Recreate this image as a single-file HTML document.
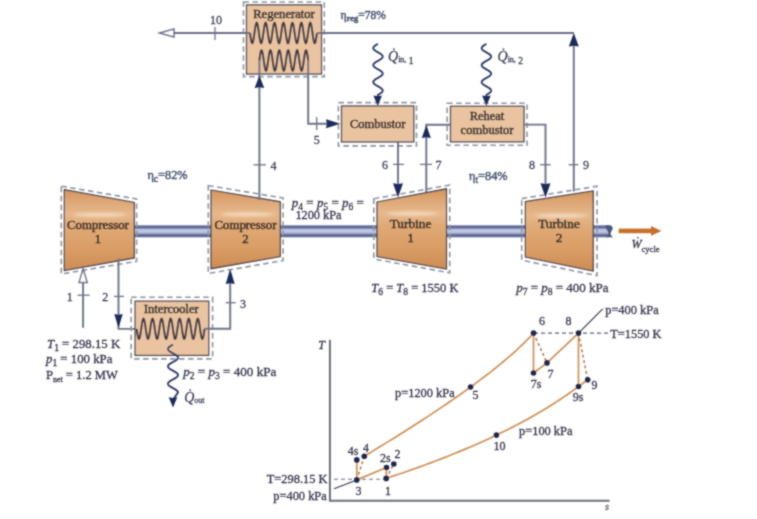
<!DOCTYPE html>
<html><head><meta charset="utf-8"><style>
html,body{margin:0;padding:0;background:#fff;width:757px;height:519px;overflow:hidden}
svg{display:block}
text{font-family:"Liberation Serif",serif}
</style></head><body>
<svg width="757" height="519" viewBox="0 0 757 519">
<defs>
<linearGradient id="tg" x1="0" y1="0" x2="0" y2="1">
<stop offset="0" stop-color="#d4945a"/>
<stop offset="0.12" stop-color="#dca472"/>
<stop offset="0.3" stop-color="#e6b88c"/>
<stop offset="0.45" stop-color="#e0aa76"/>
<stop offset="0.75" stop-color="#d99c64"/>
<stop offset="1" stop-color="#cc8c54"/>
</linearGradient>
<filter id="gb" x="0" y="0" width="757" height="519" filterUnits="userSpaceOnUse"><feConvolveMatrix order="3" kernelMatrix="1 2 1 2 8 2 1 2 1" divisor="20" edgeMode="duplicate"/></filter>
<filter id="bl" x="-50%" y="-200%" width="200%" height="500%"><feGaussianBlur stdDeviation="1.6"/></filter>
<linearGradient id="sg" x1="0" y1="0" x2="0" y2="1">
<stop offset="0" stop-color="#66739a"/>
<stop offset="0.22" stop-color="#5e6b92"/>
<stop offset="0.34" stop-color="#b6bede"/>
<stop offset="0.5" stop-color="#c4cbe8"/>
<stop offset="0.68" stop-color="#a0a9ce"/>
<stop offset="0.78" stop-color="#5a678e"/>
<stop offset="1" stop-color="#66739a"/>
</linearGradient>
</defs>
<rect width="757" height="519" fill="#ffffff"/>
<g filter="url(#gb)">
<rect x="134" y="225.3" width="78" height="12" fill="url(#sg)"/>
<rect x="280" y="225.3" width="98" height="12" fill="url(#sg)"/>
<rect x="446" y="225.3" width="80" height="12" fill="url(#sg)"/>
<rect x="593" y="225.3" width="15" height="12" fill="url(#sg)"/>
<path d="M606,225.3 L610.5,225.3 Q614.5,227.5 611.5,231 Q609,234.5 613,237.3 L606,237.3 Q609.5,234 607.5,231 Q605,227.5 606,225.3 Z" fill="#4a567c"/>
<polygon points="61.3,186.2 136.6,198.9 136.6,261.3 61.3,274" fill="none" stroke="#8e94a0" stroke-width="1.6" stroke-dasharray="5.5,3.5"/>
<polygon points="64.3,189.7 134.3,202.4 134.3,257.9 64.3,270.6" fill="url(#tg)" stroke="#3e3c4a" stroke-width="1.2"/>
<ellipse cx="100" cy="214.779" rx="26.600000000000005" ry="1.8" fill="#f8e2cc" opacity="0.85" filter="url(#bl)"/>
<text x="98" y="229" font-family="Liberation Serif" font-size="12.8" text-anchor="middle" fill="#2a2426" stroke="#2a2426" stroke-width="0.5" >Compressor</text>
<text x="98" y="243" font-family="Liberation Serif" font-size="12.8" text-anchor="middle" fill="#2a2426" stroke="#2a2426" stroke-width="0.5" >1</text>
<polygon points="208.3,185.6 283,198 283,260.6 208.3,273.5" fill="none" stroke="#8e94a0" stroke-width="1.6" stroke-dasharray="5.5,3.5"/>
<polygon points="211,190 280.3,201.8 280.3,256.5 211,268.7" fill="url(#tg)" stroke="#3e3c4a" stroke-width="1.2"/>
<ellipse cx="247.5" cy="214.397" rx="26.334000000000003" ry="1.8" fill="#f8e2cc" opacity="0.85" filter="url(#bl)"/>
<text x="245.5" y="228.5" font-family="Liberation Serif" font-size="12.8" text-anchor="middle" fill="#2a2426" stroke="#2a2426" stroke-width="0.5" >Compressor</text>
<text x="245.5" y="242.5" font-family="Liberation Serif" font-size="12.8" text-anchor="middle" fill="#2a2426" stroke="#2a2426" stroke-width="0.5" >2</text>
<polygon points="373.8,198.8 449.7,185 449.7,272.8 373.8,259" fill="none" stroke="#8e94a0" stroke-width="1.6" stroke-dasharray="5.5,3.5"/>
<polygon points="377,202 446.5,188.8 446.5,269 377,256.5" fill="url(#tg)" stroke="#3e3c4a" stroke-width="1.2"/>
<ellipse cx="412.5" cy="213.662" rx="26.41" ry="1.8" fill="#f8e2cc" opacity="0.85" filter="url(#bl)"/>
<text x="410.5" y="228" font-family="Liberation Serif" font-size="13.3" text-anchor="middle" fill="#2a2426" stroke="#2a2426" stroke-width="0.5" >Turbine</text>
<text x="410.5" y="242" font-family="Liberation Serif" font-size="13.3" text-anchor="middle" fill="#2a2426" stroke="#2a2426" stroke-width="0.5" >1</text>
<polygon points="521.7,198.6 597,186.2 597,275.6 521.7,260.2" fill="none" stroke="#8e94a0" stroke-width="1.6" stroke-dasharray="5.5,3.5"/>
<polygon points="525.4,201.7 593.2,190.9 593.2,271 525.4,257.1" fill="url(#tg)" stroke="#3e3c4a" stroke-width="1.2"/>
<ellipse cx="561" cy="215.731" rx="25.764000000000028" ry="1.8" fill="#f8e2cc" opacity="0.85" filter="url(#bl)"/>
<text x="559" y="228.2" font-family="Liberation Serif" font-size="13.3" text-anchor="middle" fill="#2a2426" stroke="#2a2426" stroke-width="0.5" >Turbine</text>
<text x="559" y="242.2" font-family="Liberation Serif" font-size="13.3" text-anchor="middle" fill="#2a2426" stroke="#2a2426" stroke-width="0.5" >2</text>
<rect x="243.5" y="2" width="80.80000000000001" height="74.6" fill="none" stroke="#8e94a0" stroke-width="1.6" stroke-dasharray="5.5,3.5"/>
<rect x="246.5" y="4.9" width="75.0" height="69.1" fill="#eac4a0" stroke="#4a4550" stroke-width="1.3"/>
<text x="284" y="17.5" font-family="Liberation Serif" font-size="12.6" text-anchor="middle" fill="#2a2426" stroke="#2a2426" stroke-width="0.5" >Regenerator</text>
<line x1="172" y1="33" x2="250" y2="33" stroke="#6b7388" stroke-width="1.9" />
<polyline points="250.00,33.00 250.17,34.20 250.33,35.39 250.50,36.55 250.67,37.65 250.83,38.70 251.00,39.66 251.17,40.53 251.33,41.30 251.50,41.96 251.67,42.49 251.83,42.90 252.00,43.16 252.17,43.29 252.33,43.27 252.50,43.12 252.67,42.83 252.83,42.40 253.00,41.84 253.17,41.16 253.33,40.37 253.50,39.48 253.67,38.49 253.83,37.44 254.00,36.32 254.17,35.16 254.33,33.96 254.50,32.76 254.66,31.56 254.83,30.37 255.00,29.23 255.16,28.13 255.33,27.10 255.50,26.16 255.66,25.30 255.83,24.56 256.00,23.92 256.16,23.42 256.33,23.04 256.50,22.80 256.66,22.70 256.83,22.75 257.00,22.93 257.16,23.25 257.33,23.71 257.50,24.29 257.66,24.99 257.83,25.80 258.00,26.71 258.16,27.71 258.33,28.78 258.50,29.91 258.66,31.08 258.83,32.28 259.00,33.48 259.16,34.68 259.33,35.86 259.50,37.00 259.66,38.08 259.83,39.09 260.00,40.02 260.16,40.86 260.33,41.58 260.50,42.19 260.66,42.67 260.83,43.02 261.00,43.23 261.16,43.30 261.33,43.23 261.50,43.02 261.66,42.67 261.83,42.19 262.00,41.58 262.16,40.86 262.33,40.02 262.50,39.09 262.66,38.08 262.83,37.00 263.00,35.86 263.16,34.68 263.33,33.48 263.49,32.28 263.66,31.08 263.83,29.91 263.99,28.78 264.16,27.71 264.33,26.71 264.49,25.80 264.66,24.99 264.83,24.29 264.99,23.71 265.16,23.25 265.33,22.93 265.49,22.75 265.66,22.70 265.83,22.80 265.99,23.04 266.16,23.42 266.33,23.92 266.49,24.56 266.66,25.30 266.83,26.16 266.99,27.10 267.16,28.13 267.33,29.23 267.49,30.37 267.66,31.56 267.83,32.76 267.99,33.96 268.16,35.16 268.33,36.32 268.49,37.44 268.66,38.49 268.83,39.48 268.99,40.37 269.16,41.16 269.33,41.84 269.49,42.40 269.66,42.83 269.83,43.12 269.99,43.27 270.16,43.29 270.33,43.16 270.49,42.90 270.66,42.49 270.83,41.96 270.99,41.30 271.16,40.53 271.33,39.66 271.49,38.70 271.66,37.65 271.83,36.55 271.99,35.39 272.16,34.20 272.32,33.00 272.49,31.80 272.66,30.61 272.82,29.45 272.99,28.35 273.16,27.30 273.32,26.34 273.49,25.47 273.66,24.70 273.82,24.04 273.99,23.51 274.16,23.10 274.32,22.84 274.49,22.71 274.66,22.73 274.82,22.88 274.99,23.17 275.16,23.60 275.32,24.16 275.49,24.84 275.66,25.63 275.82,26.52 275.99,27.51 276.16,28.56 276.32,29.68 276.49,30.84 276.66,32.04 276.82,33.24 276.99,34.44 277.16,35.63 277.32,36.77 277.49,37.87 277.66,38.90 277.82,39.84 277.99,40.70 278.16,41.44 278.32,42.08 278.49,42.58 278.66,42.96 278.82,43.20 278.99,43.30 279.16,43.25 279.32,43.07 279.49,42.75 279.66,42.29 279.82,41.71 279.99,41.01 280.16,40.20 280.32,39.29 280.49,38.29 280.66,37.22 280.82,36.09 280.99,34.92 281.16,33.72 281.32,32.52 281.49,31.32 281.65,30.14 281.82,29.00 281.99,27.92 282.15,26.91 282.32,25.98 282.49,25.14 282.65,24.42 282.82,23.81 282.99,23.33 283.15,22.98 283.32,22.77 283.49,22.70 283.65,22.77 283.82,22.98 283.99,23.33 284.15,23.81 284.32,24.42 284.49,25.14 284.65,25.98 284.82,26.91 284.99,27.92 285.15,29.00 285.32,30.14 285.49,31.32 285.65,32.52 285.82,33.72 285.99,34.92 286.15,36.09 286.32,37.22 286.49,38.29 286.65,39.29 286.82,40.20 286.99,41.01 287.15,41.71 287.32,42.29 287.49,42.75 287.65,43.07 287.82,43.25 287.99,43.30 288.15,43.20 288.32,42.96 288.49,42.58 288.65,42.08 288.82,41.44 288.99,40.70 289.15,39.84 289.32,38.90 289.49,37.87 289.65,36.77 289.82,35.63 289.99,34.44 290.15,33.24 290.32,32.04 290.48,30.84 290.65,29.68 290.82,28.56 290.98,27.51 291.15,26.52 291.32,25.63 291.48,24.84 291.65,24.16 291.82,23.60 291.98,23.17 292.15,22.88 292.32,22.73 292.48,22.71 292.65,22.84 292.82,23.10 292.98,23.51 293.15,24.04 293.32,24.70 293.48,25.47 293.65,26.34 293.82,27.30 293.98,28.35 294.15,29.45 294.32,30.61 294.48,31.80 294.65,33.00 294.82,34.20 294.98,35.39 295.15,36.55 295.32,37.65 295.48,38.70 295.65,39.66 295.82,40.53 295.98,41.30 296.15,41.96 296.32,42.49 296.48,42.90 296.65,43.16 296.82,43.29 296.98,43.27 297.15,43.12 297.32,42.83 297.48,42.40 297.65,41.84 297.82,41.16 297.98,40.37 298.15,39.48 298.32,38.49 298.48,37.44 298.65,36.32 298.82,35.16 298.98,33.96 299.15,32.76 299.31,31.56 299.48,30.37 299.65,29.23 299.81,28.13 299.98,27.10 300.15,26.16 300.31,25.30 300.48,24.56 300.65,23.92 300.81,23.42 300.98,23.04 301.15,22.80 301.31,22.70 301.48,22.75 301.65,22.93 301.81,23.25 301.98,23.71 302.15,24.29 302.31,24.99 302.48,25.80 302.65,26.71 302.81,27.71 302.98,28.78 303.15,29.91 303.31,31.08 303.48,32.28 303.65,33.48 303.81,34.68 303.98,35.86 304.15,37.00 304.31,38.08 304.48,39.09 304.65,40.02 304.81,40.86 304.98,41.58 305.15,42.19 305.31,42.67 305.48,43.02 305.65,43.23 305.81,43.30 305.98,43.23 306.15,43.02 306.31,42.67 306.48,42.19 306.65,41.58 306.81,40.86 306.98,40.02 307.15,39.09 307.31,38.08 307.48,37.00 307.65,35.86 307.81,34.68 307.98,33.48 308.14,32.28 308.31,31.08 308.48,29.91 308.64,28.78 308.81,27.71 308.98,26.71 309.14,25.80 309.31,24.99 309.48,24.29 309.64,23.71 309.81,23.25 309.98,22.93 310.14,22.75 310.31,22.70 310.48,22.80 310.64,23.04 310.81,23.42 310.98,23.92 311.14,24.56 311.31,25.30 311.48,26.16 311.64,27.10 311.81,28.13 311.98,29.23 312.14,30.37 312.31,31.56 312.48,32.76 312.64,33.96 312.81,35.16 312.98,36.32 313.14,37.44 313.31,38.49 313.48,39.48 313.64,40.37 313.81,41.16 313.98,41.84 314.14,42.40 314.31,42.83 314.48,43.12 314.64,43.27 314.81,43.29 314.98,43.16 315.14,42.90 315.31,42.49 315.48,41.96 315.64,41.30 315.81,40.53 315.98,39.66 316.14,38.70 316.31,37.65 316.48,36.55 316.64,35.39 316.81,34.20 316.98,33.00" fill="none" stroke="#3e3844" stroke-width="2.0" />
<line x1="317.2" y1="33" x2="574" y2="33" stroke="#6b7388" stroke-width="1.9" />
<path d="M174,29 L159.5,33 L174,37 Z" fill="#fff" stroke="#6b7388" stroke-width="1.5"/>
<line x1="215" y1="27" x2="215" y2="40" stroke="#6b7388" stroke-width="1.3" />
<text x="216" y="23.5" font-family="Liberation Serif" font-size="12" text-anchor="middle" fill="#3a3f56" stroke="#3a3f56" stroke-width="0.28" >10</text>
<text x="340.5" y="19" font-family="Liberation Sans" font-size="11.5" text-anchor="start" fill="#4a5570" stroke="#4a5570" stroke-width="0.45" >η<tspan font-size="8.5" dy="2" font-weight="bold">reg</tspan><tspan dy="-2">=78%</tspan></text>
<line x1="259.4" y1="200" x2="259.4" y2="60.5" stroke="#6b7388" stroke-width="1.9" />
<polyline points="259.30,60.50 259.47,59.29 259.63,58.10 259.80,56.94 259.97,55.83 260.13,54.79 260.30,53.82 260.47,52.95 260.63,52.18 260.80,51.53 260.96,50.99 261.13,50.59 261.30,50.33 261.46,50.21 261.63,50.23 261.80,50.39 261.96,50.69 262.13,51.13 262.30,51.69 262.46,52.38 262.63,53.18 262.80,54.08 262.96,55.07 263.13,56.13 263.30,57.25 263.46,58.42 263.63,59.62 263.80,60.83 263.96,62.04 264.13,63.22 264.29,64.37 264.46,65.46 264.63,66.48 264.79,67.42 264.96,68.27 265.13,69.01 265.29,69.63 265.46,70.13 265.63,70.49 265.79,70.72 265.96,70.80 266.13,70.74 266.29,70.54 266.46,70.20 266.63,69.73 266.79,69.13 266.96,68.41 267.13,67.59 267.29,66.66 267.46,65.65 267.62,64.57 267.79,63.43 267.96,62.25 268.12,61.05 268.29,59.84 268.46,58.64 268.62,57.46 268.79,56.33 268.96,55.25 269.12,54.25 269.29,53.33 269.46,52.52 269.62,51.81 269.79,51.22 269.96,50.76 270.12,50.43 270.29,50.25 270.46,50.20 270.62,50.30 270.79,50.54 270.95,50.91 271.12,51.42 271.29,52.05 271.45,52.80 271.62,53.66 271.79,54.61 271.95,55.64 272.12,56.74 272.29,57.89 272.45,59.07 272.62,60.28 272.79,61.49 272.95,62.68 273.12,63.85 273.29,64.97 273.45,66.03 273.62,67.01 273.79,67.90 273.95,68.69 274.12,69.36 274.28,69.92 274.45,70.34 274.62,70.63 274.78,70.78 274.95,70.79 275.12,70.65 275.28,70.37 275.45,69.96 275.62,69.42 275.78,68.75 275.95,67.98 276.12,67.09 276.28,66.12 276.45,65.07 276.62,63.95 276.78,62.79 276.95,61.60 277.12,60.39 277.28,59.18 277.45,57.99 277.61,56.84 277.78,55.74 277.95,54.70 278.11,53.74 278.28,52.88 278.45,52.12 278.61,51.47 278.78,50.95 278.95,50.57 279.11,50.32 279.28,50.21 279.45,50.24 279.61,50.41 279.78,50.72 279.95,51.17 280.11,51.75 280.28,52.45 280.45,53.26 280.61,54.16 280.78,55.16 280.94,56.23 281.11,57.36 281.28,58.53 281.44,59.73 281.61,60.94 281.78,62.14 281.94,63.32 282.11,64.47 282.28,65.55 282.44,66.57 282.61,67.51 282.78,68.34 282.94,69.07 283.11,69.68 283.28,70.17 283.44,70.52 283.61,70.73 283.78,70.80 283.94,70.73 284.11,70.52 284.27,70.17 284.44,69.68 284.61,69.07 284.77,68.34 284.94,67.51 285.11,66.57 285.27,65.55 285.44,64.47 285.61,63.32 285.77,62.14 285.94,60.94 286.11,59.73 286.27,58.53 286.44,57.36 286.61,56.23 286.77,55.16 286.94,54.16 287.10,53.26 287.27,52.45 287.44,51.75 287.60,51.17 287.77,50.72 287.94,50.41 288.10,50.24 288.27,50.21 288.44,50.32 288.60,50.57 288.77,50.95 288.94,51.47 289.10,52.12 289.27,52.88 289.44,53.74 289.60,54.70 289.77,55.74 289.94,56.84 290.10,57.99 290.27,59.18 290.43,60.39 290.60,61.60 290.77,62.79 290.93,63.95 291.10,65.07 291.27,66.12 291.43,67.09 291.60,67.98 291.77,68.75 291.93,69.42 292.10,69.96 292.27,70.37 292.43,70.65 292.60,70.79 292.77,70.78 292.93,70.63 293.10,70.34 293.27,69.92 293.43,69.36 293.60,68.69 293.76,67.90 293.93,67.01 294.10,66.03 294.26,64.97 294.43,63.85 294.60,62.68 294.76,61.49 294.93,60.28 295.10,59.07 295.26,57.89 295.43,56.74 295.60,55.64 295.76,54.61 295.93,53.66 296.10,52.80 296.26,52.05 296.43,51.42 296.60,50.91 296.76,50.54 296.93,50.30 297.09,50.20 297.26,50.25 297.43,50.43 297.59,50.76 297.76,51.22 297.93,51.81 298.09,52.52 298.26,53.33 298.43,54.25 298.59,55.25 298.76,56.33 298.93,57.46 299.09,58.64 299.26,59.84 299.43,61.05 299.59,62.25 299.76,63.43 299.93,64.57 300.09,65.65 300.26,66.66 300.42,67.59 300.59,68.41 300.76,69.13 300.92,69.73 301.09,70.20 301.26,70.54 301.42,70.74 301.59,70.80 301.76,70.72 301.92,70.49 302.09,70.13 302.26,69.63 302.42,69.01 302.59,68.27 302.76,67.42 302.92,66.48 303.09,65.46 303.26,64.37 303.42,63.22 303.59,62.04 303.75,60.83 303.92,59.62 304.09,58.42 304.25,57.25 304.42,56.13 304.59,55.07 304.75,54.08 304.92,53.18 305.09,52.38 305.25,51.69 305.42,51.13 305.59,50.69 305.75,50.39 305.92,50.23 306.09,50.21 306.25,50.33 306.42,50.59 306.59,50.99 306.75,51.53 306.92,52.18 307.08,52.95 307.25,53.82 307.42,54.79 307.58,55.83 307.75,56.94 307.92,58.10 308.08,59.29 308.25,60.50" fill="none" stroke="#3e3844" stroke-width="2.0" />
<path d="M254.59999999999997,88 L259.4,75.5 L264.2,88 L259.4,87.2 Z" fill="#1d2b5c"/>
<line x1="253.5" y1="164.8" x2="266" y2="164.8" stroke="#6b7388" stroke-width="1.3" />
<text x="273.5" y="169.5" font-family="Liberation Serif" font-size="12" text-anchor="middle" fill="#3a3f56" stroke="#3a3f56" stroke-width="0.28" >4</text>
<polyline points="308.20,60.50 308.20,123.80 330.00,123.80" fill="none" stroke="#6b7388" stroke-width="1.9" />
<path d="M326,119.3 L340.5,123.8 L326,128.3 L326.8,123.8 Z" fill="#1d2b5c"/>
<line x1="316.7" y1="117" x2="316.7" y2="130" stroke="#6b7388" stroke-width="1.3" />
<text x="316.7" y="143.5" font-family="Liberation Serif" font-size="12" text-anchor="middle" fill="#3a3f56" stroke="#3a3f56" stroke-width="0.28" >5</text>
<rect x="338.4" y="102.6" width="78.10000000000002" height="43.30000000000001" fill="none" stroke="#8e94a0" stroke-width="1.6" stroke-dasharray="5.5,3.5"/>
<rect x="341.5" y="106" width="72.30000000000001" height="35.900000000000006" fill="#eac4a0" stroke="#4a4550" stroke-width="1.3"/>
<text x="377.7" y="128" font-family="Liberation Serif" font-size="12.5" text-anchor="middle" fill="#2a2426" stroke="#2a2426" stroke-width="0.5" >Combustor</text>
<polyline points="378.00,43.80 377.63,44.01 377.26,44.22 376.90,44.44 376.55,44.65 376.20,44.86 375.87,45.07 375.54,45.29 375.24,45.50 374.95,45.71 374.68,45.92 374.43,46.14 374.20,46.35 373.99,46.56 373.81,46.77 373.66,46.99 373.53,47.20 373.43,47.41 373.36,47.62 373.31,47.84 373.30,48.05 373.31,48.26 373.36,48.47 373.43,48.69 373.53,48.90 373.66,49.11 373.81,49.32 373.99,49.54 374.20,49.75 374.43,49.96 374.68,50.17 374.95,50.39 375.24,50.60 375.54,50.81 375.87,51.02 376.20,51.24 376.55,51.45 376.90,51.66 377.26,51.88 377.63,52.09 378.00,52.30 378.37,52.51 378.74,52.72 379.10,52.94 379.45,53.15 379.80,53.36 380.13,53.57 380.46,53.79 380.76,54.00 381.05,54.21 381.32,54.42 381.57,54.64 381.80,54.85 382.01,55.06 382.19,55.27 382.34,55.49 382.47,55.70 382.57,55.91 382.64,56.12 382.69,56.34 382.70,56.55 382.69,56.76 382.64,56.97 382.57,57.19 382.47,57.40 382.34,57.61 382.19,57.82 382.01,58.04 381.80,58.25 381.57,58.46 381.32,58.67 381.05,58.89 380.76,59.10 380.46,59.31 380.13,59.52 379.80,59.74 379.45,59.95 379.10,60.16 378.74,60.38 378.37,60.59 378.00,60.80 377.63,61.01 377.26,61.22 376.90,61.44 376.55,61.65 376.20,61.86 375.87,62.07 375.54,62.29 375.24,62.50 374.95,62.71 374.68,62.92 374.43,63.14 374.20,63.35 373.99,63.56 373.81,63.77 373.66,63.99 373.53,64.20 373.43,64.41 373.36,64.62 373.31,64.84 373.30,65.05 373.31,65.26 373.36,65.47 373.43,65.69 373.53,65.90 373.66,66.11 373.81,66.32 373.99,66.54 374.20,66.75 374.43,66.96 374.68,67.17 374.95,67.39 375.24,67.60 375.54,67.81 375.87,68.03 376.20,68.24 376.55,68.45 376.90,68.66 377.26,68.88 377.63,69.09 378.00,69.30 378.37,69.51 378.74,69.72 379.10,69.94 379.45,70.15 379.80,70.36 380.13,70.57 380.46,70.79 380.76,71.00 381.05,71.21 381.32,71.42 381.57,71.64 381.80,71.85 382.01,72.06 382.19,72.28 382.34,72.49 382.47,72.70 382.57,72.91 382.64,73.12 382.69,73.34 382.70,73.55 382.69,73.76 382.64,73.97 382.57,74.19 382.47,74.40 382.34,74.61 382.19,74.82 382.01,75.04 381.80,75.25 381.57,75.46 381.32,75.67 381.05,75.89 380.76,76.10 380.46,76.31 380.13,76.53 379.80,76.74 379.45,76.95 379.10,77.16 378.74,77.38 378.37,77.59 378.00,77.80 377.63,78.01 377.26,78.22 376.90,78.44 376.55,78.65 376.20,78.86 375.87,79.07 375.54,79.29 375.24,79.50 374.95,79.71 374.68,79.92 374.43,80.14 374.20,80.35 373.99,80.56 373.81,80.78 373.66,80.99 373.53,81.20 373.43,81.41 373.36,81.62 373.31,81.84 373.30,82.05 373.31,82.26 373.36,82.47 373.43,82.69 373.53,82.90 373.66,83.11 373.81,83.32 373.99,83.54 374.20,83.75 374.43,83.96 374.68,84.17 374.95,84.39 375.24,84.60 375.54,84.81 375.87,85.03 376.20,85.24 376.55,85.45 376.90,85.66 377.26,85.88 377.63,86.09 378.00,86.30 378.37,86.51 378.74,86.72 379.10,86.94 379.45,87.15 379.80,87.36 380.13,87.57 380.46,87.79 380.76,88.00 381.05,88.21 381.32,88.42 381.57,88.64 381.80,88.85 382.01,89.06 382.19,89.28 382.34,89.49 382.47,89.70 382.57,89.91 382.64,90.12 382.69,90.34 382.70,90.55 382.69,90.76 382.64,90.97 382.57,91.19 382.47,91.40 382.34,91.61 382.19,91.82 382.01,92.04 381.80,92.25 381.57,92.46 381.32,92.67 381.05,92.89 380.76,93.10 380.46,93.31 380.13,93.53 379.80,93.74 379.45,93.95 379.10,94.16 378.74,94.38 378.37,94.59 378.00,94.80 377.70,98.00" fill="none" stroke="#2e3b66" stroke-width="1.9" />
<path d="M373.4,95.5 L377.7,106 L382.0,95.5 L377.7,96.3 Z" fill="#1d2b5c"/>
<text x="388" y="60.5" font-family="Liberation Serif" font-size="12" text-anchor="start" fill="#3a3f56" stroke="#3a3f56" stroke-width="0.28" ><tspan font-style="italic" font-size="14">Q̇</tspan><tspan font-size="8" dy="1.5">in,</tspan><tspan font-size="9.5" dy="2" dx="2.5">1</tspan></text>
<rect x="447.2" y="103.2" width="79.80000000000001" height="42.10000000000001" fill="none" stroke="#8e94a0" stroke-width="1.6" stroke-dasharray="5.5,3.5"/>
<rect x="450.5" y="106.3" width="73.5" height="35.500000000000014" fill="#eac4a0" stroke="#4a4550" stroke-width="1.3"/>
<text x="487" y="120.3" font-family="Liberation Serif" font-size="12.5" text-anchor="middle" fill="#2a2426" stroke="#2a2426" stroke-width="0.5" >Reheat</text>
<text x="487" y="133.6" font-family="Liberation Serif" font-size="12.5" text-anchor="middle" fill="#2a2426" stroke="#2a2426" stroke-width="0.5" >combustor</text>
<polyline points="486.40,43.90 486.03,44.11 485.66,44.32 485.30,44.54 484.95,44.75 484.60,44.96 484.27,45.17 483.94,45.39 483.64,45.60 483.35,45.81 483.08,46.02 482.83,46.24 482.60,46.45 482.39,46.66 482.21,46.88 482.06,47.09 481.93,47.30 481.83,47.51 481.76,47.73 481.71,47.94 481.70,48.15 481.71,48.36 481.76,48.58 481.83,48.79 481.93,49.00 482.06,49.21 482.21,49.42 482.39,49.64 482.60,49.85 482.83,50.06 483.08,50.27 483.35,50.49 483.64,50.70 483.94,50.91 484.27,51.12 484.60,51.34 484.95,51.55 485.30,51.76 485.66,51.98 486.03,52.19 486.40,52.40 486.77,52.61 487.14,52.83 487.50,53.04 487.85,53.25 488.20,53.46 488.53,53.67 488.86,53.89 489.16,54.10 489.45,54.31 489.72,54.52 489.97,54.74 490.20,54.95 490.41,55.16 490.59,55.38 490.74,55.59 490.87,55.80 490.97,56.01 491.04,56.23 491.09,56.44 491.10,56.65 491.09,56.86 491.04,57.08 490.97,57.29 490.87,57.50 490.74,57.71 490.59,57.92 490.41,58.14 490.20,58.35 489.97,58.56 489.72,58.77 489.45,58.99 489.16,59.20 488.86,59.41 488.53,59.62 488.20,59.84 487.85,60.05 487.50,60.26 487.14,60.48 486.77,60.69 486.40,60.90 486.03,61.11 485.66,61.33 485.30,61.54 484.95,61.75 484.60,61.96 484.27,62.17 483.94,62.39 483.64,62.60 483.35,62.81 483.08,63.03 482.83,63.24 482.60,63.45 482.39,63.66 482.21,63.88 482.06,64.09 481.93,64.30 481.83,64.51 481.76,64.72 481.71,64.94 481.70,65.15 481.71,65.36 481.76,65.58 481.83,65.79 481.93,66.00 482.06,66.21 482.21,66.42 482.39,66.64 482.60,66.85 482.83,67.06 483.08,67.28 483.35,67.49 483.64,67.70 483.94,67.91 484.27,68.12 484.60,68.34 484.95,68.55 485.30,68.76 485.66,68.97 486.03,69.19 486.40,69.40 486.77,69.61 487.14,69.83 487.50,70.04 487.85,70.25 488.20,70.46 488.53,70.67 488.86,70.89 489.16,71.10 489.45,71.31 489.72,71.53 489.97,71.74 490.20,71.95 490.41,72.16 490.59,72.38 490.74,72.59 490.87,72.80 490.97,73.01 491.04,73.22 491.09,73.44 491.10,73.65 491.09,73.86 491.04,74.08 490.97,74.29 490.87,74.50 490.74,74.71 490.59,74.92 490.41,75.14 490.20,75.35 489.97,75.56 489.72,75.78 489.45,75.99 489.16,76.20 488.86,76.41 488.53,76.62 488.20,76.84 487.85,77.05 487.50,77.26 487.14,77.47 486.77,77.69 486.40,77.90 486.03,78.11 485.66,78.33 485.30,78.54 484.95,78.75 484.60,78.96 484.27,79.18 483.94,79.39 483.64,79.60 483.35,79.81 483.08,80.03 482.83,80.24 482.60,80.45 482.39,80.66 482.21,80.88 482.06,81.09 481.93,81.30 481.83,81.51 481.76,81.73 481.71,81.94 481.70,82.15 481.71,82.36 481.76,82.58 481.83,82.79 481.93,83.00 482.06,83.21 482.21,83.43 482.39,83.64 482.60,83.85 482.83,84.06 483.08,84.28 483.35,84.49 483.64,84.70 483.94,84.91 484.27,85.12 484.60,85.34 484.95,85.55 485.30,85.76 485.66,85.98 486.03,86.19 486.40,86.40 486.77,86.61 487.14,86.83 487.50,87.04 487.85,87.25 488.20,87.46 488.53,87.68 488.86,87.89 489.16,88.10 489.45,88.31 489.72,88.53 489.97,88.74 490.20,88.95 490.41,89.16 490.59,89.38 490.74,89.59 490.87,89.80 490.97,90.01 491.04,90.23 491.09,90.44 491.10,90.65 491.09,90.86 491.04,91.08 490.97,91.29 490.87,91.50 490.74,91.71 490.59,91.93 490.41,92.14 490.20,92.35 489.97,92.56 489.72,92.78 489.45,92.99 489.16,93.20 488.86,93.41 488.53,93.62 488.20,93.84 487.85,94.05 487.50,94.26 487.14,94.48 486.77,94.69 486.40,94.90 486.40,98.00" fill="none" stroke="#2e3b66" stroke-width="1.9" />
<path d="M482.09999999999997,95.5 L486.4,106 L490.7,95.5 L486.4,96.3 Z" fill="#1d2b5c"/>
<text x="497.5" y="60.5" font-family="Liberation Serif" font-size="12" text-anchor="start" fill="#3a3f56" stroke="#3a3f56" stroke-width="0.28" ><tspan font-style="italic" font-size="14">Q̇</tspan><tspan font-size="8" dy="1.5">in,</tspan><tspan font-size="9.5" dy="2" dx="2.5">2</tspan></text>
<line x1="398" y1="142" x2="398" y2="190" stroke="#6b7388" stroke-width="1.9" />
<path d="M393,183.2 L398,197.5 L403,183.2 L398,184.0 Z" fill="#1d2b5c"/>
<line x1="393" y1="164.4" x2="404" y2="164.4" stroke="#6b7388" stroke-width="1.3" />
<text x="385" y="169" font-family="Liberation Serif" font-size="12" text-anchor="middle" fill="#3a3f56" stroke="#3a3f56" stroke-width="0.28" >6</text>
<polyline points="426.30,192.00 426.30,124.70 450.50,124.70" fill="none" stroke="#6b7388" stroke-width="1.9" />
<path d="M421.8,138 L426.3,125 L430.8,138 L426.3,137.2 Z" fill="#1d2b5c"/>
<line x1="420" y1="164.4" x2="432" y2="164.4" stroke="#6b7388" stroke-width="1.3" />
<text x="438.5" y="169" font-family="Liberation Serif" font-size="12" text-anchor="middle" fill="#3a3f56" stroke="#3a3f56" stroke-width="0.28" >7</text>
<polyline points="524.00,124.60 545.50,124.60 545.50,190.00" fill="none" stroke="#6b7388" stroke-width="1.9" />
<path d="M540.5,183.2 L545.5,197.5 L550.5,183.2 L545.5,184.0 Z" fill="#1d2b5c"/>
<line x1="540.2" y1="164.7" x2="550.7" y2="164.7" stroke="#6b7388" stroke-width="1.3" />
<text x="532" y="169" font-family="Liberation Serif" font-size="12" text-anchor="middle" fill="#3a3f56" stroke="#3a3f56" stroke-width="0.28" >8</text>
<line x1="573.8" y1="191.5" x2="573.8" y2="40" stroke="#6b7388" stroke-width="1.9" />
<path d="M568.8,46.5 L573.8,33 L578.8,46.5 L573.8,45.7 Z" fill="#1d2b5c"/>
<line x1="568.6" y1="164.7" x2="578.4" y2="164.7" stroke="#6b7388" stroke-width="1.3" />
<text x="586" y="169" font-family="Liberation Serif" font-size="12" text-anchor="middle" fill="#3a3f56" stroke="#3a3f56" stroke-width="0.28" >9</text>
<text x="147.4" y="178.5" font-family="Liberation Sans" font-size="12.3" text-anchor="start" fill="#4a5570" stroke="#4a5570" stroke-width="0.45" >η<tspan font-size="9.5" dy="3">c</tspan><tspan dy="-3">=82%</tspan></text>
<text x="469" y="179.5" font-family="Liberation Sans" font-size="12.3" text-anchor="start" fill="#4a5570" stroke="#4a5570" stroke-width="0.45" >η<tspan font-size="9.5" dy="3">t</tspan><tspan dy="-3">=84%</tspan></text>
<text x="291.8" y="206.8" font-family="Liberation Serif" font-size="13.0" text-anchor="start" fill="#34344a" stroke="#34344a" stroke-width="0.28" ><tspan font-style="italic">p</tspan><tspan font-size="9.5" dy="3">4</tspan><tspan dy="-3"> = </tspan><tspan font-style="italic">p</tspan><tspan font-size="9.5" dy="3">5</tspan><tspan dy="-3"> = </tspan><tspan font-style="italic">p</tspan><tspan font-size="9.5" dy="3">6</tspan><tspan dy="-3"> =</tspan></text>
<text x="295.4" y="219.2" font-family="Liberation Serif" font-size="12.3" text-anchor="start" fill="#34344a" stroke="#34344a" stroke-width="0.28" >1200 kPa</text>
<rect x="618.7" y="228.6" width="34" height="4.6" fill="#c8702a"/>
<path d="M651,226 L661.5,230.9 L651,235.8 Z" fill="#c8702a"/>
<text x="631.6" y="248.2" font-family="Liberation Serif" font-size="12" text-anchor="start" fill="#34344a" stroke="#34344a" stroke-width="0.28" ><tspan font-style="italic">Ẇ</tspan><tspan font-size="8.5" dy="4">cycle</tspan></text>
<text x="371.3" y="292" font-family="Liberation Serif" font-size="12.5" text-anchor="start" fill="#34344a" stroke="#34344a" stroke-width="0.28" ><tspan font-style="italic">T</tspan><tspan font-size="9.5" dy="3">6</tspan><tspan dy="-3"> = </tspan><tspan font-style="italic">T</tspan><tspan font-size="9.5" dy="3">8</tspan><tspan dy="-3"> = 1550 K</tspan></text>
<text x="516.2" y="292" font-family="Liberation Serif" font-size="13.0" text-anchor="start" fill="#34344a" stroke="#34344a" stroke-width="0.28" ><tspan font-style="italic">p</tspan><tspan font-size="9.5" dy="3">7</tspan><tspan dy="-3"> = </tspan><tspan font-style="italic">p</tspan><tspan font-size="9.5" dy="3">8</tspan><tspan dy="-3"> = 400 kPa</tspan></text>
<line x1="83.1" y1="327.8" x2="83.1" y2="282" stroke="#6b7388" stroke-width="1.9" />
<path d="M79,282.6 L83.1,268.8 L87.2,282.6 Z" fill="#fff" stroke="#6b7388" stroke-width="1.5"/>
<line x1="77.6" y1="295.2" x2="89.6" y2="295.2" stroke="#6b7388" stroke-width="1.3" />
<text x="69.8" y="300.5" font-family="Liberation Serif" font-size="12" text-anchor="middle" fill="#3a3f56" stroke="#3a3f56" stroke-width="0.28" >1</text>
<polyline points="118.50,258.50 118.50,328.90 136.40,328.90" fill="none" stroke="#6b7388" stroke-width="1.9" />
<path d="M114.3,314 L118.5,328 L122.7,314 L118.5,314.8 Z" fill="#1d2b5c"/>
<line x1="114" y1="296.4" x2="124" y2="296.4" stroke="#6b7388" stroke-width="1.3" />
<text x="105.3" y="301" font-family="Liberation Serif" font-size="12" text-anchor="middle" fill="#3a3f56" stroke="#3a3f56" stroke-width="0.28" >2</text>
<rect x="131.2" y="297.3" width="81.4" height="61.599999999999966" fill="none" stroke="#8e94a0" stroke-width="1.6" stroke-dasharray="5.5,3.5"/>
<rect x="135.1" y="301.2" width="73.6" height="54.19999999999999" fill="#eac4a0" stroke="#4a4550" stroke-width="1.3"/>
<text x="171.2" y="313.1" font-family="Liberation Serif" font-size="12.5" text-anchor="middle" fill="#2a2426" stroke="#2a2426" stroke-width="0.5" >Intercooler</text>
<polyline points="136.70,328.80 136.87,329.98 137.03,331.14 137.20,332.26 137.37,333.35 137.53,334.37 137.70,335.32 137.86,336.18 138.03,336.94 138.20,337.59 138.36,338.13 138.53,338.54 138.70,338.83 138.86,338.98 139.03,338.99 139.20,338.87 139.36,338.61 139.53,338.22 139.69,337.71 139.86,337.08 140.03,336.34 140.19,335.50 140.36,334.56 140.53,333.56 140.69,332.48 140.86,331.36 141.03,330.21 141.19,329.04 141.36,327.86 141.52,326.69 141.69,325.56 141.86,324.47 142.02,323.43 142.19,322.47 142.36,321.59 142.52,320.80 142.69,320.13 142.86,319.57 143.02,319.13 143.19,318.82 143.35,318.64 143.52,318.60 143.69,318.70 143.85,318.93 144.02,319.29 144.19,319.78 144.35,320.39 144.52,321.11 144.69,321.93 144.85,322.84 145.02,323.84 145.18,324.90 145.35,326.01 145.52,327.16 145.68,328.33 145.85,329.51 146.02,330.67 146.18,331.82 146.35,332.92 146.52,333.97 146.68,334.95 146.85,335.84 147.01,336.65 147.18,337.35 147.35,337.93 147.51,338.39 147.68,338.73 147.85,338.93 148.01,339.00 148.18,338.93 148.35,338.73 148.51,338.39 148.68,337.93 148.84,337.35 149.01,336.65 149.18,335.84 149.34,334.95 149.51,333.97 149.68,332.92 149.84,331.82 150.01,330.67 150.18,329.51 150.34,328.33 150.51,327.16 150.67,326.01 150.84,324.90 151.01,323.84 151.17,322.84 151.34,321.93 151.51,321.11 151.67,320.39 151.84,319.78 152.01,319.29 152.17,318.93 152.34,318.70 152.50,318.60 152.67,318.64 152.84,318.82 153.00,319.13 153.17,319.57 153.34,320.13 153.50,320.80 153.67,321.59 153.84,322.47 154.00,323.43 154.17,324.47 154.33,325.56 154.50,326.69 154.67,327.86 154.83,329.04 155.00,330.21 155.17,331.36 155.33,332.48 155.50,333.56 155.67,334.56 155.83,335.50 156.00,336.34 156.16,337.08 156.33,337.71 156.50,338.22 156.66,338.61 156.83,338.87 157.00,338.99 157.16,338.98 157.33,338.83 157.50,338.54 157.66,338.13 157.83,337.59 157.99,336.94 158.16,336.18 158.33,335.32 158.49,334.37 158.66,333.35 158.83,332.26 158.99,331.14 159.16,329.98 159.32,328.80 159.49,327.62 159.66,326.46 159.82,325.34 159.99,324.25 160.16,323.23 160.32,322.28 160.49,321.42 160.66,320.66 160.82,320.01 160.99,319.47 161.15,319.06 161.32,318.77 161.49,318.62 161.65,318.61 161.82,318.73 161.99,318.99 162.15,319.38 162.32,319.89 162.49,320.52 162.65,321.26 162.82,322.10 162.98,323.04 163.15,324.04 163.32,325.12 163.48,326.24 163.65,327.39 163.82,328.56 163.98,329.74 164.15,330.91 164.32,332.04 164.48,333.13 164.65,334.17 164.81,335.13 164.98,336.01 165.15,336.80 165.31,337.47 165.48,338.03 165.65,338.47 165.81,338.78 165.98,338.96 166.15,339.00 166.31,338.90 166.48,338.67 166.64,338.31 166.81,337.82 166.98,337.21 167.14,336.49 167.31,335.67 167.48,334.76 167.64,333.76 167.81,332.70 167.98,331.59 168.14,330.44 168.31,329.27 168.47,328.09 168.64,326.93 168.81,325.78 168.97,324.68 169.14,323.63 169.31,322.65 169.47,321.76 169.64,320.95 169.81,320.25 169.97,319.67 170.14,319.21 170.30,318.87 170.47,318.67 170.64,318.60 170.80,318.67 170.97,318.87 171.14,319.21 171.30,319.67 171.47,320.25 171.64,320.95 171.80,321.76 171.97,322.65 172.13,323.63 172.30,324.68 172.47,325.78 172.63,326.93 172.80,328.09 172.97,329.27 173.13,330.44 173.30,331.59 173.47,332.70 173.63,333.76 173.80,334.76 173.96,335.67 174.13,336.49 174.30,337.21 174.46,337.82 174.63,338.31 174.80,338.67 174.96,338.90 175.13,339.00 175.30,338.96 175.46,338.78 175.63,338.47 175.79,338.03 175.96,337.47 176.13,336.80 176.29,336.01 176.46,335.13 176.63,334.17 176.79,333.13 176.96,332.04 177.13,330.91 177.29,329.74 177.46,328.56 177.62,327.39 177.79,326.24 177.96,325.12 178.12,324.04 178.29,323.04 178.46,322.10 178.62,321.26 178.79,320.52 178.96,319.89 179.12,319.38 179.29,318.99 179.45,318.73 179.62,318.61 179.79,318.62 179.95,318.77 180.12,319.06 180.29,319.47 180.45,320.01 180.62,320.66 180.79,321.42 180.95,322.28 181.12,323.23 181.28,324.25 181.45,325.34 181.62,326.46 181.78,327.62 181.95,328.80 182.12,329.98 182.28,331.14 182.45,332.26 182.62,333.35 182.78,334.37 182.95,335.32 183.11,336.18 183.28,336.94 183.45,337.59 183.61,338.13 183.78,338.54 183.95,338.83 184.11,338.98 184.28,338.99 184.45,338.87 184.61,338.61 184.78,338.22 184.94,337.71 185.11,337.08 185.28,336.34 185.44,335.50 185.61,334.56 185.78,333.56 185.94,332.48 186.11,331.36 186.28,330.21 186.44,329.04 186.61,327.86 186.77,326.69 186.94,325.56 187.11,324.47 187.27,323.43 187.44,322.47 187.61,321.59 187.77,320.80 187.94,320.13 188.11,319.57 188.27,319.13 188.44,318.82 188.60,318.64 188.77,318.60 188.94,318.70 189.10,318.93 189.27,319.29 189.44,319.78 189.60,320.39 189.77,321.11 189.94,321.93 190.10,322.84 190.27,323.84 190.43,324.90 190.60,326.01 190.77,327.16 190.93,328.33 191.10,329.51 191.27,330.67 191.43,331.82 191.60,332.92 191.77,333.97 191.93,334.95 192.10,335.84 192.26,336.65 192.43,337.35 192.60,337.93 192.76,338.39 192.93,338.73 193.10,338.93 193.26,339.00 193.43,338.93 193.60,338.73 193.76,338.39 193.93,337.93 194.09,337.35 194.26,336.65 194.43,335.84 194.59,334.95 194.76,333.97 194.93,332.92 195.09,331.82 195.26,330.67 195.43,329.51 195.59,328.33 195.76,327.16 195.92,326.01 196.09,324.90 196.26,323.84 196.42,322.84 196.59,321.93 196.76,321.11 196.92,320.39 197.09,319.78 197.26,319.29 197.42,318.93 197.59,318.70 197.75,318.60 197.92,318.64 198.09,318.82 198.25,319.13 198.42,319.57 198.59,320.13 198.75,320.80 198.92,321.59 199.09,322.47 199.25,323.43 199.42,324.47 199.58,325.56 199.75,326.69 199.92,327.86 200.08,329.04 200.25,330.21 200.42,331.36 200.58,332.48 200.75,333.56 200.92,334.56 201.08,335.50 201.25,336.34 201.41,337.08 201.58,337.71 201.75,338.22 201.91,338.61 202.08,338.87 202.25,338.99 202.41,338.98 202.58,338.83 202.75,338.54 202.91,338.13 203.08,337.59 203.24,336.94 203.41,336.18 203.58,335.32 203.74,334.37 203.91,333.35 204.08,332.26 204.24,331.14 204.41,329.98 204.57,328.80" fill="none" stroke="#3e3844" stroke-width="2.0" />
<polyline points="204.50,328.80 230.20,328.80 230.20,282.00" fill="none" stroke="#6b7388" stroke-width="1.9" />
<path d="M225.7,284 L230.2,268.8 L234.7,284 L230.2,283.2 Z" fill="#1d2b5c"/>
<line x1="225.7" y1="302.7" x2="235.7" y2="302.7" stroke="#6b7388" stroke-width="1.3" />
<text x="243" y="307.5" font-family="Liberation Serif" font-size="12" text-anchor="middle" fill="#3a3f56" stroke="#3a3f56" stroke-width="0.28" >3</text>
<polyline points="173.00,344.60 172.64,344.80 172.28,345.00 171.93,345.20 171.58,345.40 171.24,345.60 170.91,345.80 170.59,346.00 170.28,346.20 169.98,346.39 169.70,346.59 169.44,346.79 169.20,346.99 168.97,347.19 168.77,347.39 168.59,347.59 168.43,347.79 168.30,347.99 168.19,348.19 168.10,348.39 168.04,348.59 168.01,348.79 168.00,348.99 168.02,349.19 168.06,349.39 168.13,349.58 168.22,349.78 168.34,349.98 168.49,350.18 168.65,350.38 168.84,350.58 169.05,350.78 169.28,350.98 169.53,351.18 169.80,351.38 170.09,351.58 170.39,351.78 170.70,351.98 171.03,352.18 171.36,352.38 171.71,352.58 172.06,352.77 172.41,352.97 172.77,353.17 173.13,353.37 173.49,353.57 173.85,353.77 174.20,353.97 174.55,354.17 174.88,354.37 175.21,354.57 175.53,354.77 175.83,354.97 176.12,355.17 176.39,355.37 176.65,355.57 176.89,355.77 177.10,355.96 177.30,356.16 177.47,356.36 177.62,356.56 177.75,356.76 177.85,356.96 177.92,357.16 177.97,357.36 178.00,357.56 178.00,357.76 177.97,357.96 177.92,358.16 177.84,358.36 177.73,358.56 177.61,358.76 177.46,358.96 177.28,359.15 177.08,359.35 176.87,359.55 176.63,359.75 176.37,359.95 176.10,360.15 175.81,360.35 175.50,360.55 175.18,360.75 174.85,360.95 174.51,361.15 174.17,361.35 173.81,361.55 173.46,361.75 173.10,361.95 172.74,362.15 172.38,362.34 172.02,362.54 171.67,362.74 171.33,362.94 171.00,363.14 170.67,363.34 170.36,363.54 170.06,363.74 169.78,363.94 169.51,364.14 169.26,364.34 169.03,364.54 168.82,364.74 168.64,364.94 168.47,365.14 168.33,365.34 168.22,365.53 168.12,365.73 168.06,365.93 168.02,366.13 168.00,366.33 168.01,366.53 168.05,366.73 168.11,366.93 168.20,367.13 168.31,367.33 168.45,367.53 168.61,367.73 168.79,367.93 168.99,368.13 169.22,368.33 169.46,368.53 169.73,368.72 170.01,368.92 170.30,369.12 170.61,369.32 170.94,369.52 171.27,369.72 171.61,369.92 171.96,370.12 172.31,370.32 172.67,370.52 173.03,370.72 173.39,370.92 173.75,371.12 174.10,371.32 174.45,371.52 174.79,371.72 175.12,371.91 175.44,372.11 175.75,372.31 176.04,372.51 176.32,372.71 176.58,372.91 176.82,373.11 177.05,373.31 177.25,373.51 177.42,373.71 177.58,373.91 177.71,374.11 177.82,374.31 177.90,374.51 177.96,374.71 177.99,374.91 178.00,375.10 177.98,375.30 177.93,375.50 177.86,375.70 177.77,375.90 177.64,376.10 177.50,376.30 177.33,376.50 177.14,376.70 176.93,376.90 176.69,377.10 176.44,377.30 176.17,377.50 175.89,377.70 175.58,377.90 175.27,378.10 174.94,378.29 174.61,378.49 174.26,378.69 173.91,378.89 173.56,379.09 173.20,379.29 172.84,379.49 172.48,379.69 172.12,379.89 171.77,380.09 171.42,380.29 171.09,380.49 170.76,380.69 170.44,380.89 170.14,381.09 169.85,381.29 169.58,381.48 169.33,381.68 169.09,381.88 168.88,382.08 168.69,382.28 168.52,382.48 168.37,382.68 168.24,382.88 168.15,383.08 168.07,383.28 168.02,383.48 168.00,383.68 168.01,383.88 168.03,384.08 168.09,384.28 168.17,384.48 168.28,384.67 168.41,384.87 168.56,385.07 168.74,385.27 168.94,385.47 169.16,385.67 169.40,385.87 169.65,386.07 169.93,386.27 170.22,386.47 170.53,386.67 170.85,386.87 171.18,387.07 171.52,387.27 171.86,387.47 172.22,387.67 172.58,387.86 172.93,388.06 173.29,388.26 173.65,388.46 174.01,388.66 174.36,388.86 174.70,389.06 175.03,389.26 175.36,389.46 175.67,389.66 175.97,389.86 176.25,390.06 176.51,390.26 176.76,390.46 176.99,390.66 177.19,390.86 177.38,391.05 177.54,391.25 177.68,391.45 177.79,391.65 177.88,391.85 177.95,392.05 177.99,392.25 178.00,392.45 172.80,400.00" fill="none" stroke="#2e3b66" stroke-width="1.9" />
<path d="M168.7,397.3 L173,407.5 L177.3,397.3 L173,398.1 Z" fill="#1d2b5c"/>
<text x="184.2" y="401.5" font-family="Liberation Serif" font-size="12" text-anchor="start" fill="#3a3f56" stroke="#3a3f56" stroke-width="0.28" ><tspan font-style="italic" font-size="14">Q̇</tspan><tspan font-size="8" dy="1.5">out</tspan></text>
<text x="183.3" y="375.5" font-family="Liberation Serif" font-size="13.1" text-anchor="start" fill="#34344a" stroke="#34344a" stroke-width="0.28" ><tspan font-style="italic">p</tspan><tspan font-size="9.5" dy="3">2</tspan><tspan dy="-3"> = </tspan><tspan font-style="italic">p</tspan><tspan font-size="9.5" dy="3">3</tspan><tspan dy="-3"> = 400 kPa</tspan></text>
<text x="47" y="347.5" font-family="Liberation Serif" font-size="12.8" text-anchor="start" fill="#34344a" stroke="#34344a" stroke-width="0.28" ><tspan font-style="italic">T</tspan><tspan font-size="9.5" dy="3">1</tspan><tspan dy="-3"> = 298.15 K</tspan></text>
<text x="46" y="362.8" font-family="Liberation Serif" font-size="12.8" text-anchor="start" fill="#34344a" stroke="#34344a" stroke-width="0.28" ><tspan font-style="italic">p</tspan><tspan font-size="9.5" dy="3">1</tspan><tspan dy="-3"> = 100 kPa</tspan></text>
<text x="46" y="379.4" font-family="Liberation Serif" font-size="12.5" text-anchor="start" fill="#34344a" stroke="#34344a" stroke-width="0.28" >P<tspan font-size="8" dy="3">net</tspan><tspan dy="-3"> = 1.2 MW</tspan></text>
<line x1="329.9" y1="339.8" x2="329.9" y2="501" stroke="#687078" stroke-width="2" />
<line x1="329" y1="500.8" x2="609.5" y2="500.8" stroke="#687078" stroke-width="2" />
<text x="318.3" y="348.9" font-family="Liberation Serif" font-size="12" text-anchor="start" fill="#34344a" stroke="#34344a" stroke-width="0.28" font-style="italic">T</text>
<text x="605" y="509.6" font-family="Liberation Serif" font-size="10" text-anchor="start" fill="#5a5a66" stroke="#5a5a66" stroke-width="0.28" font-style="italic">s</text>
<line x1="334" y1="479.2" x2="386" y2="479.2" stroke="#6a7288" stroke-width="1.1" stroke-dasharray="4,3"/>
<line x1="534" y1="333.1" x2="609" y2="333.1" stroke="#5a6278" stroke-width="1.1" stroke-dasharray="4,3"/>
<text x="266.8" y="483.4" font-family="Liberation Serif" font-size="12.4" text-anchor="start" fill="#34344a" stroke="#34344a" stroke-width="0.28" >T=298.15 K</text>
<text x="273.3" y="500.3" font-family="Liberation Serif" font-size="12.4" text-anchor="start" fill="#34344a" stroke="#34344a" stroke-width="0.28" >p=400 kPa</text>
<text x="610.2" y="338" font-family="Liberation Serif" font-size="12.4" text-anchor="start" fill="#34344a" stroke="#34344a" stroke-width="0.28" >T=1550 K</text>
<text x="605.2" y="313.8" font-family="Liberation Serif" font-size="12.4" text-anchor="start" fill="#34344a" stroke="#34344a" stroke-width="0.28" >p=400 kPa</text>
<text x="395" y="396.8" font-family="Liberation Serif" font-size="12.4" text-anchor="start" fill="#34344a" stroke="#34344a" stroke-width="0.28" >p=1200 kPa</text>
<text x="519" y="435" font-family="Liberation Serif" font-size="12.4" text-anchor="start" fill="#34344a" stroke="#34344a" stroke-width="0.28" >p=100 kPa</text>
<line x1="334" y1="488.7" x2="356.8" y2="479.9" stroke="#34344a" stroke-width="1.1" />
<line x1="578.5" y1="333.1" x2="602.7" y2="308.8" stroke="#34344a" stroke-width="1.1" />
<polyline points="364.30,456.20 368.54,453.65 372.74,451.11 376.88,448.59 380.98,446.09 385.03,443.60 389.03,441.14 392.99,438.68 396.89,436.25 400.75,433.83 404.56,431.43 408.32,429.05 412.03,426.68 415.69,424.33 419.31,422.00 422.88,419.69 426.39,417.39 429.87,415.11 433.29,412.84 436.66,410.60 439.99,408.37 443.27,406.15 446.50,403.96 449.68,401.78 452.81,399.62 455.90,397.47 458.93,395.34 461.92,393.23 464.86,391.14 467.76,389.06 470.60,387.00 473.40,384.96 476.14,382.93 478.84,380.92 481.49,378.93 484.10,376.95 486.65,375.00 489.16,373.05 491.62,371.13 494.03,369.22 496.39,367.33 498.70,365.46 500.97,363.60 503.19,361.76 505.35,359.94 507.48,358.14 509.55,356.35 511.57,354.58 513.55,352.82 515.48,351.09 517.36,349.37 519.19,347.66 520.97,345.98 522.71,344.31 524.39,342.66 526.03,341.02 527.62,339.40 529.16,337.80 530.66,336.22 532.10,334.65 533.50,333.10" fill="none" stroke="#cf8f55" stroke-width="1.7" />
<polyline points="386.20,478.40 390.33,477.04 394.42,475.68 398.48,474.31 402.52,472.93 406.52,471.55 410.49,470.16 414.43,468.77 418.33,467.37 422.21,465.97 426.06,464.56 429.87,463.14 433.65,461.72 437.40,460.29 441.12,458.85 444.81,457.41 448.47,455.97 452.10,454.51 455.69,453.06 459.26,451.59 462.79,450.12 466.29,448.65 469.76,447.16 473.20,445.68 476.61,444.18 479.98,442.68 483.33,441.18 486.64,439.67 489.93,438.15 493.18,436.63 496.40,435.10 499.59,433.57 502.75,432.02 505.87,430.48 508.97,428.93 512.03,427.37 515.07,425.80 518.07,424.23 521.04,422.66 523.98,421.08 526.89,419.49 529.77,417.90 532.61,416.30 535.43,414.69 538.21,413.08 540.96,411.46 543.68,409.84 546.37,408.21 549.03,406.58 551.66,404.94 554.26,403.29 556.82,401.64 559.35,399.98 561.86,398.31 564.33,396.64 566.77,394.97 569.18,393.29 571.55,391.60 573.90,389.90 576.22,388.21 578.50,386.50" fill="none" stroke="#cf8f55" stroke-width="1.7" />
<polyline points="578.50,386.50 587.70,379.70" fill="none" stroke="#cf8f55" stroke-width="1.7" />
<polyline points="356.80,479.90 386.50,467.50" fill="none" stroke="#cf8f55" stroke-width="1.7" />
<polyline points="533.50,373.00 547.00,362.90 578.50,333.10" fill="none" stroke="#cf8f55" stroke-width="1.7" />
<polyline points="356.80,479.90 356.80,459.90" fill="none" stroke="#cf8f55" stroke-width="1.7" />
<polyline points="386.20,478.40 386.50,467.50" fill="none" stroke="#cf8f55" stroke-width="1.7" />
<polyline points="533.50,333.10 533.50,373.00" fill="none" stroke="#cf8f55" stroke-width="1.7" />
<polyline points="578.50,333.10 578.50,386.50" fill="none" stroke="#cf8f55" stroke-width="1.7" />
<line x1="356.8" y1="479.9" x2="364.3" y2="456.2" stroke="#b07a4a" stroke-width="1.5" stroke-dasharray="3,2.5"/>
<line x1="386.2" y1="478.4" x2="393.8" y2="464" stroke="#b07a4a" stroke-width="1.5" stroke-dasharray="3,2.5"/>
<line x1="533.5" y1="333.1" x2="547" y2="362.9" stroke="#b07a4a" stroke-width="1.5" stroke-dasharray="3,2.5"/>
<line x1="578.5" y1="333.1" x2="587.7" y2="379.7" stroke="#b07a4a" stroke-width="1.5" stroke-dasharray="3,2.5"/>
<circle cx="386.2" cy="478.4" r="2.8" fill="#1e2750"/>
<circle cx="393.8" cy="464" r="2.8" fill="#1e2750"/>
<circle cx="386.5" cy="467.5" r="2.8" fill="#1e2750"/>
<circle cx="356.8" cy="479.9" r="2.8" fill="#1e2750"/>
<circle cx="356.8" cy="459.9" r="2.8" fill="#1e2750"/>
<circle cx="364.3" cy="456.2" r="2.8" fill="#1e2750"/>
<circle cx="470.6" cy="387" r="2.8" fill="#1e2750"/>
<circle cx="533.5" cy="333.1" r="2.8" fill="#1e2750"/>
<circle cx="533.5" cy="373" r="2.8" fill="#1e2750"/>
<circle cx="547" cy="362.9" r="2.8" fill="#1e2750"/>
<circle cx="578.5" cy="333.1" r="2.8" fill="#1e2750"/>
<circle cx="578.5" cy="386.5" r="2.8" fill="#1e2750"/>
<circle cx="587.7" cy="379.7" r="2.8" fill="#1e2750"/>
<circle cx="496.4" cy="435.1" r="2.8" fill="#1e2750"/>
<text x="358.5" y="494.5" font-family="Liberation Serif" font-size="12" text-anchor="middle" fill="#34344a" stroke="#34344a" stroke-width="0.28" >3</text>
<text x="388" y="494.5" font-family="Liberation Serif" font-size="12" text-anchor="middle" fill="#34344a" stroke="#34344a" stroke-width="0.28" >1</text>
<text x="353.2" y="454.5" font-family="Liberation Serif" font-size="12" text-anchor="middle" fill="#34344a" stroke="#34344a" stroke-width="0.28" >4s</text>
<text x="366" y="451.6" font-family="Liberation Serif" font-size="12" text-anchor="middle" fill="#34344a" stroke="#34344a" stroke-width="0.28" >4</text>
<text x="385.4" y="462" font-family="Liberation Serif" font-size="12" text-anchor="middle" fill="#34344a" stroke="#34344a" stroke-width="0.28" >2s</text>
<text x="397.5" y="457.9" font-family="Liberation Serif" font-size="12" text-anchor="middle" fill="#34344a" stroke="#34344a" stroke-width="0.28" >2</text>
<text x="475.5" y="398.8" font-family="Liberation Serif" font-size="12" text-anchor="middle" fill="#34344a" stroke="#34344a" stroke-width="0.28" >5</text>
<text x="499.6" y="450" font-family="Liberation Serif" font-size="12" text-anchor="middle" fill="#34344a" stroke="#34344a" stroke-width="0.28" >10</text>
<text x="536" y="387.6" font-family="Liberation Serif" font-size="12" text-anchor="middle" fill="#34344a" stroke="#34344a" stroke-width="0.28" >7s</text>
<text x="550.5" y="378" font-family="Liberation Serif" font-size="12" text-anchor="middle" fill="#34344a" stroke="#34344a" stroke-width="0.28" >7</text>
<text x="578.2" y="401.4" font-family="Liberation Serif" font-size="12" text-anchor="middle" fill="#34344a" stroke="#34344a" stroke-width="0.28" >9s</text>
<text x="594.5" y="388.8" font-family="Liberation Serif" font-size="12" text-anchor="middle" fill="#34344a" stroke="#34344a" stroke-width="0.28" >9</text>
<text x="542" y="325" font-family="Liberation Serif" font-size="12" text-anchor="middle" fill="#34344a" stroke="#34344a" stroke-width="0.28" >6</text>
<text x="568.5" y="325" font-family="Liberation Serif" font-size="12" text-anchor="middle" fill="#34344a" stroke="#34344a" stroke-width="0.28" >8</text>
</g>
</svg>
</body></html>
